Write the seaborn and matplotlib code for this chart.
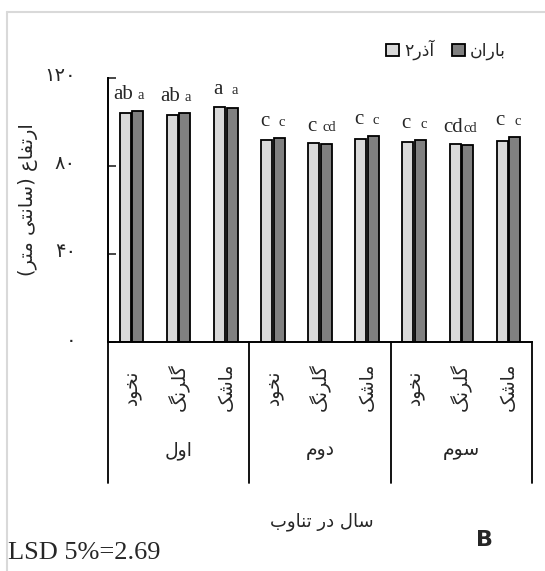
import re
import numpy as np
import pandas as pd
import matplotlib
matplotlib.use("Agg")
import matplotlib.pyplot as plt
import matplotlib.transforms as mtransforms
from matplotlib.lines import Line2D
from matplotlib.patches import Patch
import seaborn as sns

# ---- data ----
years = ["اول", "دوم", "سوم"]
crops = ["نخود", "گلرنگ", "ماشک"]
cultivars = ["آذر۲", "باران"]
azar2_height = [104.0, 103.0, 106.8, 91.6, 90.2, 92.0, 90.9, 89.7, 91.3]
baran_height = [104.9, 103.8, 106.3, 92.4, 89.9, 93.5, 91.8, 89.6, 92.9]
azar2_letters = ["ab", "ab", "a", "c", "c", "c", "c", "cd", "c"]
baran_letters = ["a", "a", "a", "c", "cd", "c", "c", "cd", "c"]
y_ticks = [0, 40, 80, 120]
y_tick_labels = ["۰", "۴۰", "۸۰", "۱۲۰"]
y_label = "ارتفاع (سانتی متر)"
x_label = "سال در تناوب"
lsd_note = "LSD 5%=2.69"
panel_tag = "B"

light, dark = "#d9d9d9", "#808080"

# ---- minimal Persian shaping (matplotlib has no bidi / joining) ----
FORMS = {
    "ا": ("\uFE8D", "\uFE8E", None, None),
    "آ": ("\uFE81", "\uFE82", None, None),
    "ب": ("\uFE8F", "\uFE90", "\uFE91", "\uFE92"),
    "ت": ("\uFE95", "\uFE96", "\uFE97", "\uFE98"),
    "خ": ("\uFEA5", "\uFEA6", "\uFEA7", "\uFEA8"),
    "د": ("\uFEA9", "\uFEAA", None, None),
    "ذ": ("\uFEAB", "\uFEAC", None, None),
    "ر": ("\uFEAD", "\uFEAE", None, None),
    "س": ("\uFEB1", "\uFEB2", "\uFEB3", "\uFEB4"),
    "ش": ("\uFEB5", "\uFEB6", "\uFEB7", "\uFEB8"),
    "ع": ("\uFEC9", "\uFECA", "\uFECB", "\uFECC"),
    "ف": ("\uFED1", "\uFED2", "\uFED3", "\uFED4"),
    "ل": ("\uFEDD", "\uFEDE", "\uFEDF", "\uFEE0"),
    "م": ("\uFEE1", "\uFEE2", "\uFEE3", "\uFEE4"),
    "ن": ("\uFEE5", "\uFEE6", "\uFEE7", "\uFEE8"),
    "و": ("\uFEED", "\uFEEE", None, None),
    "ک": ("\uFB8E", "\uFB8F", "\uFB90", "\uFB91"),
    "گ": ("\uFB92", "\uFB93", "\uFB94", "\uFB95"),
    "ی": ("\uFBFC", "\uFBFD", "\uFBFE", "\uFBFF"),
}


def fa(text):
    out = []
    for i, c in enumerate(text):
        if c not in FORMS:
            out.append(c)
            continue
        prev = text[i - 1] if i > 0 else None
        nxt = text[i + 1] if i + 1 < len(text) else None
        join_prev = prev in FORMS and FORMS[prev][2] is not None
        join_next = nxt in FORMS and FORMS[c][2] is not None
        iso, fin, ini, med = FORMS[c]
        if join_prev and join_next:
            out.append(med)
        elif join_prev:
            out.append(fin)
        elif join_next:
            out.append(ini)
        else:
            out.append(iso)
    s = "".join(out)[::-1].translate(str.maketrans("()", ")("))
    return re.sub(r"[0-9\u06F0-\u06F9]+", lambda m: m.group(0)[::-1], s)


slots = [f"{y}-{c}" for y in years for c in crops]
df = pd.DataFrame({
    "slot": slots * 2,
    "cultivar": [cultivars[0]] * 9 + [cultivars[1]] * 9,
    "height": azar2_height + baran_height,
})

sns.set_theme(style="white")
plt.rcParams["font.family"] = ["DejaVu Sans"]

fig = plt.figure(figsize=(5.45, 5.71), dpi=100)
ax = fig.add_axes([108 / 545, 1 - 342 / 571, 424 / 545, 264.5 / 571])

sns.barplot(data=df, x="slot", y="height", hue="cultivar", order=slots,
            hue_order=cultivars, palette=[light, dark], saturation=1,
            width=0.53, gap=0.12, edgecolor="black", linewidth=1.3,
            errorbar=None, legend=False, ax=ax)

ax.set_xlim(-0.5, 8.5)
ax.set_ylim(0, 120)
ax.set_xticks([])
ax.set_xlabel("")
ax.set_ylabel("")
ax.set_yticks(y_ticks)
ax.set_yticklabels(y_tick_labels, fontsize=14)
ax.tick_params(axis="y", direction="in", length=6, width=1.2, pad=23, left=True)
shift = mtransforms.ScaledTranslation(0, 4 / 100, fig.dpi_scale_trans)
for lbl in ax.get_yticklabels():
    lbl.set_transform(lbl.get_transform() + shift)
for side in ["top", "right"]:
    ax.spines[side].set_visible(False)
for side in ["left", "bottom"]:
    ax.spines[side].set_color("black")
    ax.spines[side].set_linewidth(1.4)

# significance letters over each bar pair
light_bars, dark_bars = ax.containers[0], ax.containers[1]
for i in range(len(slots)):
    b1, b2 = light_bars[i], dark_bars[i]
    top = max(azar2_height[i], baran_height[i]) + 5.5
    ax.text(b1.get_x() + b1.get_width() / 2 - 0.04, top, azar2_letters[i],
            ha="center", va="baseline", fontsize=15, family="Liberation Serif")
    ax.text(b2.get_x() + b2.get_width() / 2 + 0.06, top, baran_letters[i],
            ha="center", va="baseline", fontsize=10.5, family="Liberation Serif")

# two-level category table below the axis
table_bottom = (342 - 483) / 264.5
for xf in [0, 1 / 3, 2 / 3, 1]:
    ax.plot([xf, xf], [0, table_bottom], color="black", lw=1.3,
            transform=ax.transAxes, clip_on=False)
blend = mtransforms.blended_transform_factory(ax.transData, ax.transAxes)
for i, slot in enumerate(slots):
    crop = slot.split("-")[1]
    ax.text(i, -0.17, fa(crop), rotation=90, ha="center", va="center",
            fontsize=13.5, transform=blend)
for j, yr in enumerate(years):
    ax.text((j + 0.5) / 3, -0.41, fa(yr), ha="center", va="center",
            fontsize=13.5, transform=ax.transAxes)

ax.text(0.505, -0.68, fa(x_label), ha="center", va="center", fontsize=13,
        transform=ax.transAxes)
fig.text(28 / 545, 1 - 200 / 571, fa(y_label), rotation=90, ha="center",
         va="center", fontsize=14)

# legend
handles = [Patch(facecolor=light, edgecolor="black", lw=1.3),
           Patch(facecolor=dark, edgecolor="black", lw=1.3)]
fig.legend(handles, [fa(c) for c in cultivars], loc="center left",
           bbox_to_anchor=(386 / 545, 1 - 50 / 571), ncol=2, frameon=False,
           fontsize=12.5, handlelength=0.75, handleheight=0.75,
           handletextpad=0.3, columnspacing=1.0, borderpad=0, borderaxespad=0)

fig.text(8 / 545, 1 - 553 / 571, lsd_note, ha="left", va="center",
         fontsize=19, family="Liberation Serif")
fig.text(484 / 545, 1 - 540 / 571, panel_tag, ha="center", va="center",
         fontsize=16, fontweight="bold")

# light grey frame edge
fig.add_artist(Line2D([7 / 545, 7 / 545], [0, 1 - 12 / 571], color="#d9d9d9", lw=1.5))
fig.add_artist(Line2D([7 / 545, 1], [1 - 12 / 571, 1 - 12 / 571], color="#d9d9d9", lw=1.5))

fig.savefig("out.png", dpi=100, facecolor="white")
